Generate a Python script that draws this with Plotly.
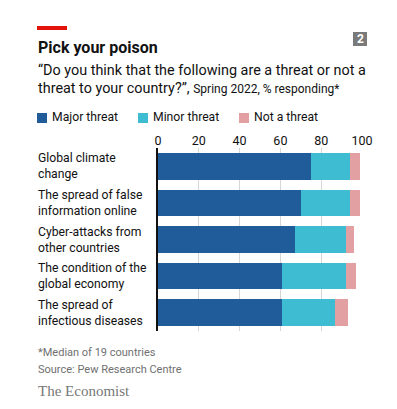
import plotly.graph_objects as go

categories = ["Global climate<br>change", "The spread of false<br>information online",
              "Cyber-attacks from<br>other countries", "The condition of the<br>global economy",
              "The spread of<br>infectious diseases"]
major = [75, 70, 67, 61, 61]
minor = [19, 24, 25, 31, 26]
not_threat = [5, 5, 4, 5, 6]
series_names = ["Major threat", "Minor threat", "Not a threat"]
colors = ["#1F5C99", "#3EBCD2", "#E3A0A2"]
x_ticks = [0, 20, 40, 60, 80, 100]

FONT = "Roboto"
OFF = 8  # page body margin
W, H = 397 - OFF, 409 - OFF
# plot area in reference (window) pixels
PX0, PX1, PY0, PY1 = 158, 362, 148, 331
L, R, T, B = PX0 - OFF, W - (PX1 - OFF), PY0 - OFF, H - (PY1 - OFF)
PW, PH = W - L - R, H - T - B

fig = go.Figure()
for name, vals, col in zip(series_names, [major, minor, not_threat], colors):
    fig.add_trace(go.Bar(y=categories, x=vals, name=name, orientation="h",
                         marker=dict(color=col, line=dict(width=0)), showlegend=False))

fig.update_layout(
    width=W, height=H, barmode="stack", bargap=0.27,
    margin=dict(l=L, r=R, t=T, b=B),
    paper_bgcolor="white", plot_bgcolor="white",
    font=dict(family=FONT, size=13, color="#111111"),
    xaxis=dict(range=[0, 100], side="top", tickvals=x_ticks, showgrid=True,
               gridcolor="#d6d6d6", gridwidth=1, zeroline=False, showline=False,
               ticks="", tickfont=dict(size=12.5, color="#111111"), fixedrange=True),
    yaxis=dict(autorange="reversed", showticklabels=False, showgrid=False, zeroline=False,
               showline=True, linecolor="#111111", linewidth=1.5, ticks="", fixedrange=True),
)

def px_x(p):
    return (p - OFF - L) / PW
def px_y(p):
    return (H - B - (p - OFF)) / PH

# category labels
for c in categories:
    fig.add_annotation(x=px_x(36), xref="paper", y=c, yref="y", text=c, showarrow=False,
                       xanchor="left", yanchor="middle", align="left",
                       font=dict(family=FONT, size=12.2, color="#111111"))

# red bar
fig.add_shape(type="rect", xref="paper", yref="paper", x0=px_x(37), x1=px_x(67),
              y0=px_y(30), y1=px_y(26), fillcolor="#E3120B", line=dict(width=0))
# grey box
fig.add_shape(type="rect", xref="paper", yref="paper", x0=px_x(353), x1=px_x(367),
              y0=px_y(46), y1=px_y(32), fillcolor="#7A7A7A", line=dict(width=0))
fig.add_annotation(x=px_x(360), y=px_y(39), xref="paper", yref="paper", text="<b>2</b>",
                   showarrow=False, xanchor="center", yanchor="middle",
                   font=dict(family=FONT, size=12, color="white"))

# title and subtitle
fig.add_annotation(x=px_x(36), y=px_y(47), xref="paper", yref="paper",
                   text="<b>Pick your poison</b>", showarrow=False, xanchor="left",
                   yanchor="middle", font=dict(family=FONT, size=16, color="#111111"))
fig.add_annotation(x=px_x(36), y=px_y(70), xref="paper", yref="paper",
                   text="\u201cDo you think that the following are a threat or not a",
                   showarrow=False, xanchor="left", yanchor="middle",
                   font=dict(family=FONT, size=14.4, color="#111111"))
fig.add_annotation(x=px_x(36), y=px_y(88), xref="paper", yref="paper",
                   text="threat to your country?\u201d, <span style='font-size:12px'>Spring 2022, % responding*</span>",
                   showarrow=False, xanchor="left", yanchor="middle",
                   font=dict(family=FONT, size=14.4, color="#111111"))

# legend
leg_x = [37, 138, 239]
for name, col, lx in zip(series_names, colors, leg_x):
    fig.add_shape(type="rect", xref="paper", yref="paper", x0=px_x(lx), x1=px_x(lx + 10),
                  y0=px_y(123), y1=px_y(113), fillcolor=col, line=dict(width=0))
    fig.add_annotation(x=px_x(lx + 13), y=px_y(117.5), xref="paper", yref="paper", text=name,
                       showarrow=False, xanchor="left", yanchor="middle",
                       font=dict(family=FONT, size=12.2, color="#111111"))

# footer
fig.add_annotation(x=px_x(36), y=px_y(352), xref="paper", yref="paper",
                   text="*Median of 19 countries", showarrow=False, xanchor="left",
                   yanchor="middle", font=dict(family=FONT, size=11, color="#707070"))
fig.add_annotation(x=px_x(36), y=px_y(369), xref="paper", yref="paper",
                   text="Source: Pew Research Centre", showarrow=False, xanchor="left",
                   yanchor="middle", font=dict(family=FONT, size=11, color="#707070"))
fig.add_annotation(x=px_x(36), y=px_y(391), xref="paper", yref="paper",
                   text="The Economist", showarrow=False, xanchor="left",
                   yanchor="middle", font=dict(family="Liberation Serif", size=15, color="#777777"))

fig.write_html("out.html")
